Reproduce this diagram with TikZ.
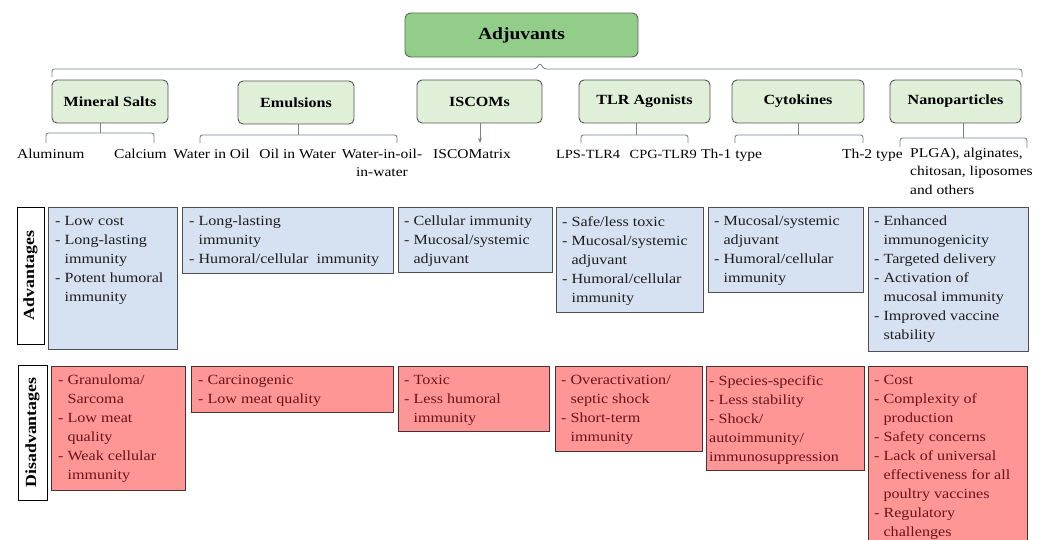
\documentclass[tikz,border=0pt]{standalone}
\usepackage{fontspec}
\setmainfont[FakeStretch=1.15]{Liberation Serif}
\usetikzlibrary{arrows.meta}
\definecolor{adjfill}{RGB}{146,206,138}
\definecolor{adjdraw}{RGB}{85,105,80}
\definecolor{catfill}{RGB}{224,239,216}
\definecolor{catdraw}{RGB}{85,85,85}
\definecolor{advfill}{RGB}{214,225,241}
\definecolor{advdraw}{RGB}{80,80,80}
\definecolor{disfill}{RGB}{255,150,150}
\definecolor{disdraw}{RGB}{70,50,50}
\definecolor{distext}{RGB}{105,20,25}
\definecolor{advtext}{RGB}{30,30,30}
\definecolor{bracecol}{RGB}{120,130,145}
\newcommand\hind{\phantom{- }}
\begin{document}
\begin{tikzpicture}[x=1pt,y=-1pt,
  box/.style={line width=0.9pt, inner sep=0pt, outer sep=0pt, anchor=north west},
  advbox/.style={box, fill=advfill, draw=advdraw},
  disbox/.style={box, fill=disfill, draw=disdraw},
  txt/.style={anchor=north west, inner sep=0pt, align=left, font=\fontsize{14}{19}\selectfont},
  advtxt/.style={txt, text=advtext},
  distxt/.style={txt, text=distext},
  cat/.style={draw=catdraw, line width=0.9pt, rounded corners=5pt, fill=catfill, minimum height=43pt, inner sep=0pt, font=\bfseries\fontsize{14}{17}\selectfont},
  sub/.style={anchor=base west, inner sep=0pt, font=\fontsize{13.5}{18.5}\selectfont},
  subr/.style={anchor=base east, inner sep=0pt, font=\fontsize{13.5}{18.5}\selectfont},
  subm/.style={inner sep=0pt, font=\fontsize{13.5}{18.5}\selectfont},
  brace/.style={draw=bracecol, line width=0.9pt, rounded corners=2.5pt},
  sidelab/.style={draw=black, line width=0.9pt, fill=white, rotate=90, inner sep=0pt, font=\bfseries\fontsize{15.5}{18}\selectfont}
]
\useasboundingbox (0,0) rectangle (1049,539);

% top node
\node[draw=adjdraw, line width=0.9pt, rounded corners=6pt, fill=adjfill, minimum width=233pt, minimum height=44pt, inner sep=0pt, font=\bfseries\fontsize{17}{20}\selectfont] (adj) at (521.5,35) {Adjuvants};

% main brace
\coordinate (bt) at (540,63);
\draw[brace] (52,77) -- (52,69) -- (536,69) -- (bt) -- (544,69) -- (1022,69) -- (1022,77);

% categories
\node[cat, minimum width=116pt] (ms) at (110,101.5) {Mineral Salts};
\node[cat, minimum width=116pt] (em) at (296,102.5) {Emulsions};
\node[cat, minimum width=125pt] (is) at (479.5,101.5) {ISCOMs};
\node[cat, minimum width=131pt] (tlr) at (644.5,101.5) {TLR Agonists};
\node[cat, minimum width=132pt] (cy) at (798,101.5) {Cytokines};
\node[cat, minimum width=131pt] (np) at (955.5,101.5) {Nanoparticles};

% sub braces
\draw[brace] (46,143) -- (46,133) -- (154,133) -- (154,143);
\draw[brace] (ms.south -| 100,0) -- (100,133);
\draw[brace] (200,143) -- (200,135) -- (397,135) -- (397,143);
\draw[brace] (em.south -| 298,0) -- (298,135);
\draw[draw=bracecol, line width=0.9pt, -{Stealth[length=5pt,width=4pt]}] (is.south -| 480,0) -- (480,143);
\draw[brace] (581,143) -- (581,135) -- (688,135) -- (688,143);
\draw[brace] (tlr.south -| 636,0) -- (636,135);
\draw[brace] (735,143) -- (735,135) -- (863,135) -- (863,143);
\draw[brace] (cy.south -| 798,0) -- (798,135);
\draw[brace] (900,147) -- (900,138) -- (1027,138) -- (1027,148);
\draw[brace] (np.south -| 963,0) -- (963,138);

% sub items
\node[sub] (s1) at (17,158) {Aluminum};
\node[subr] (s2) at (167,158) {Calcium};
\node[subr] (s3) at (250,158) {Water in Oil};
\node[subr] (s4) at (336,158) {Oil in Water};
\node[subm, anchor=north, align=center] (s5) at (382,148.5) {Water-in-oil-\\in-water};
\node[sub] (s6) at (433,158) {ISCOMatrix};
\node[sub, font=\fontsize{12.5}{18}\selectfont] (s7) at (556,158) {LPS-TLR4};
\node[subr, font=\fontsize{12.5}{18}\selectfont] (s8) at (697,158) {CPG-TLR9};
\node[sub] (s9) at (701,158) {Th-1 type};
\node[subr] (s10) at (903,158) {Th-2 type};
\node[subm, anchor=north west, align=left] (s11) at (910,147.5) {PLGA), alginates,\\chitosan, liposomes\\and others};

% side labels
\node[sidelab, minimum width=137pt, minimum height=27pt] (advlab) at (30.5,275.5) {Advantages};
\node[sidelab, minimum width=135pt, minimum height=29pt] (dislab) at (32.5,432.5) {Disadvantages};

% advantages
\node[advbox, minimum width=129pt, minimum height=142pt] (a1) at (48,207) {};
\node[advtxt] (a1t) at ([xshift=7pt,yshift=-9pt]a1.north west) {- Low cost\\- Long-lasting\\\hind immunity\\- Potent humoral\\\hind immunity};
\node[advbox, minimum width=211pt, minimum height=66pt] (a2) at (182,207) {};
\node[advtxt] (a2t) at ([xshift=7pt,yshift=-9pt]a2.north west) {- Long-lasting\\\hind immunity\\- Humoral/cellular\ \ immunity};
\node[advbox, minimum width=154pt, minimum height=65pt] (a3) at (398,207) {};
\node[advtxt] (a3t) at ([xshift=6pt,yshift=-9pt]a3.north west) {- Cellular immunity\\- Mucosal/systemic\\\hind adjuvant};
\node[advbox, minimum width=147pt, minimum height=105pt] (a4) at (556,207) {};
\node[advtxt] (a4t) at ([xshift=6pt,yshift=-9pt]a4.north west) {- Safe/less toxic\\- Mucosal/systemic\\\hind adjuvant\\- Humoral/cellular\\\hind immunity};
\node[advbox, minimum width=155pt, minimum height=85pt] (a5) at (708,207) {};
\node[advtxt] (a5t) at ([xshift=6pt,yshift=-9pt]a5.north west) {- Mucosal/systemic\\\hind adjuvant\\- Humoral/cellular\\\hind immunity};
\node[advbox, minimum width=160pt, minimum height=144pt] (a6) at (868,207) {};
\node[advtxt] (a6t) at ([xshift=6pt,yshift=-9pt]a6.north west) {- Enhanced\\\hind immunogenicity\\- Targeted delivery\\- Activation of\\\hind mucosal immunity\\- Improved vaccine\\\hind stability};

% disadvantages
\node[disbox, minimum width=134pt, minimum height=124pt] (d1) at (51,366) {};
\node[distxt] (d1t) at ([xshift=7pt,yshift=-9pt]d1.north west) {- Granuloma/\\\hind Sarcoma\\- Low meat\\\hind quality\\- Weak cellular\\\hind immunity};
\node[disbox, minimum width=202pt, minimum height=46pt] (d2) at (191,366) {};
\node[distxt] (d2t) at ([xshift=7pt,yshift=-9pt]d2.north west) {- Carcinogenic\\- Low meat quality};
\node[disbox, minimum width=151pt, minimum height=65pt] (d3) at (398,366) {};
\node[distxt] (d3t) at ([xshift=6pt,yshift=-9pt]d3.north west) {- Toxic\\- Less humoral\\\hind immunity};
\node[disbox, minimum width=147pt, minimum height=85pt] (d4) at (555,366) {};
\node[distxt] (d4t) at ([xshift=6pt,yshift=-9pt]d4.north west) {- Overactivation/\\\hind septic shock\\- Short-term\\\hind immunity};
\node[disbox, minimum width=158pt, minimum height=104pt] (d5) at (706,366) {};
\node[distxt] (d5t) at ([xshift=3pt,yshift=-9pt]d5.north west) {- Species-specific\\- Less stability\\- Shock/\\autoimmunity/\\immunosuppression};
\node[disbox, minimum width=159pt, minimum height=180pt] (d6) at (868,366) {};
\node[distxt] (d6t) at ([xshift=6pt,yshift=-9pt]d6.north west) {- Cost\\- Complexity of\\\hind production\\- Safety concerns\\- Lack of universal\\\hind effectiveness for all\\\hind poultry vaccines\\- Regulatory\\\hind challenges};
\end{tikzpicture}
\end{document}
